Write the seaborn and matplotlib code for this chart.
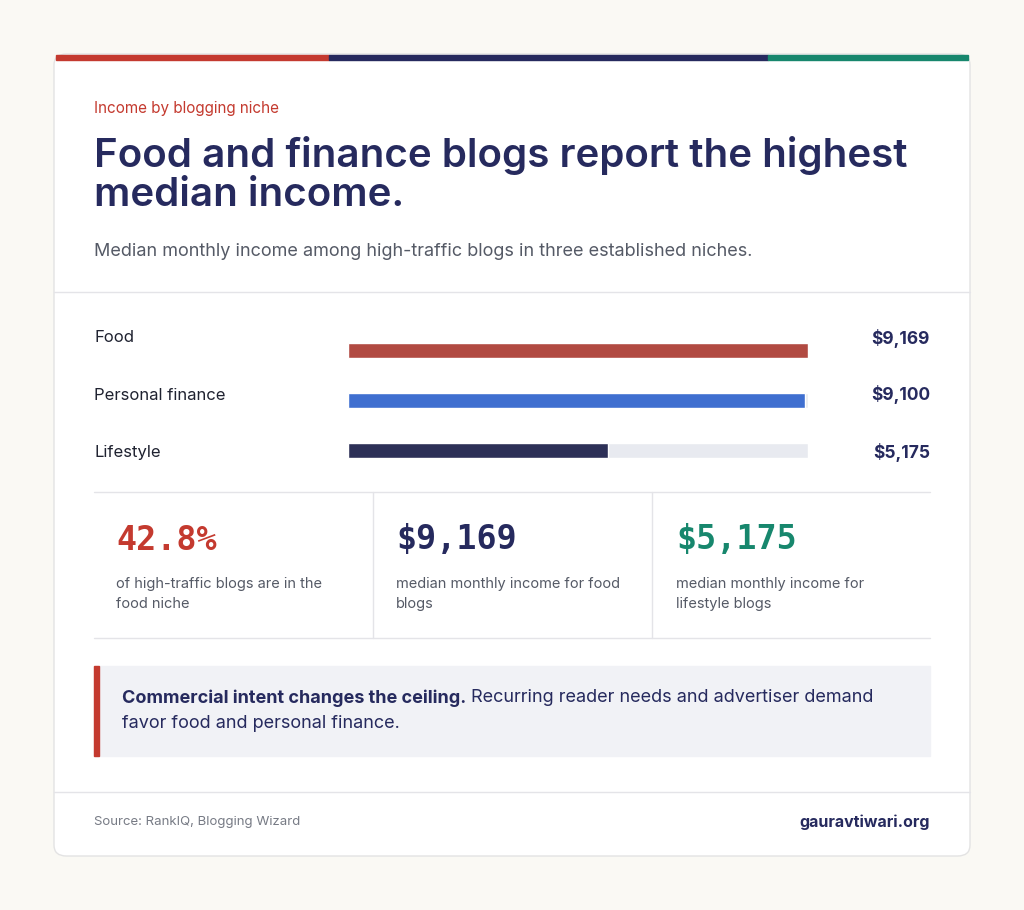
import matplotlib
matplotlib.use("Agg")
import matplotlib.pyplot as plt
import seaborn as sns
import pandas as pd
from matplotlib.patches import FancyBboxPatch, Rectangle

# --- datos ---
niches = ["Food", "Personal finance", "Lifestyle"]
income = [9169, 9100, 5175]
value_labels = ["$9,169", "$9,100", "$5,175"]
stat_values = ["42.8%", "$9,169", "$5,175"]
stat_texts = ["of high-traffic blogs are in the\nfood niche",
              "median monthly income for food\nblogs",
              "median monthly income for\nlifestyle blogs"]

RED, NAVY, BLUE, GREEN = "#c43a2f", "#262a5e", "#2767e8", "#17876d"
GREY_TXT, TRACK = "#555a66", "#e8eaf0"

sns.set_theme(style="white")
plt.rcParams["font.family"] = ["Inter", "DejaVu Sans"]

W, H = 1024, 910
fig = plt.figure(figsize=(W / 100, H / 100), dpi=100)
fig.patch.set_facecolor("#faf9f4")

def fx(x): return x / W
def fy(y): return 1 - y / H

# tarjeta
card = FancyBboxPatch((fx(54), fy(856)), fx(916), 802 / H,
                      boxstyle="round,pad=0,rounding_size=0.012",
                      transform=fig.transFigure, facecolor="white",
                      edgecolor="#e3e3e3", linewidth=1)
fig.patches.append(card)
for x0, x1, c in [(56, 329, RED), (329, 768, NAVY), (768, 968, GREEN)]:
    fig.patches.append(Rectangle((fx(x0), fy(60)), fx(x1 - x0), 5 / H,
                                 transform=fig.transFigure, color=c))

def hline(y, x0=94, x1=930, c="#e4e4e8"):
    fig.add_artist(plt.Line2D([fx(x0), fx(x1)], [fy(y), fy(y)], color=c, lw=1))

def vline(x, y0, y1, c="#e4e4e8"):
    fig.add_artist(plt.Line2D([fx(x), fx(x)], [fy(y0), fy(y1)], color=c, lw=1))

fig.text(fx(94), fy(108), "Income by blogging niche", color=RED, fontsize=11, va="center")
fig.text(fx(94), fy(175), "Food and finance blogs report the highest\nmedian income.",
         color=NAVY, fontsize=29, fontweight="semibold", va="center", linespacing=1.05)
fig.text(fx(94), fy(251), "Median monthly income among high-traffic blogs in three established niches.",
         color=GREY_TXT, fontsize=13, va="center")
hline(292, 54, 970)

# barras
df = pd.DataFrame({"niche": niches, "income": income})
ax = fig.add_axes([fx(348), fy(475), fx(460), 160 / H])
ax.set_zorder(10)
ax.patch.set_alpha(0)
ax.barh(range(3), [max(income)] * 3, height=0.3, color=TRACK)
sns.barplot(data=df, x="income", y="niche", hue="niche",
            palette=[RED, BLUE, NAVY], width=0.3, legend=False, ax=ax)
ax.set_xlim(0, max(income))
ax.set_ylim(2.5, -0.7)
ax.axis("off")
for i, (n, v) in enumerate(zip(niches, value_labels)):
    y = 338 + 57 * i
    fig.text(fx(94), fy(y), n, color="#1f2230", fontsize=12, va="center")
    fig.text(fx(930), fy(y), v, color=NAVY, fontsize=12.5, fontweight="bold",
             va="center", ha="right")

hline(492)
vline(373, 492, 638)
vline(652, 492, 638)
for i, (v, t, c) in enumerate(zip(stat_values, stat_texts, [RED, NAVY, GREEN])):
    x = 116 + 280 * i
    fig.text(fx(x), fy(540), v, color=c, fontsize=24, fontweight="bold",
             family="DejaVu Sans Mono", va="center")
    fig.text(fx(x), fy(594), t, color=GREY_TXT, fontsize=10.5, va="center", linespacing=1.5)
hline(638)

# nota
fig.patches.append(Rectangle((fx(94), fy(756)), fx(836), 90 / H,
                             transform=fig.transFigure, color="#f1f2f6"))
fig.patches.append(Rectangle((fx(94), fy(756)), fx(5), 90 / H,
                             transform=fig.transFigure, color=RED))
fig.text(fx(122), fy(698), "Commercial intent changes the ceiling.", color=NAVY,
         fontsize=13, fontweight="bold", va="center")
fig.text(fx(471), fy(698), "Recurring reader needs and advertiser demand",
         color=NAVY, fontsize=13, va="center")
fig.text(fx(122), fy(724), "favor food and personal finance.", color=NAVY, fontsize=13, va="center")

hline(792, 54, 970)
fig.text(fx(94), fy(822), "Source: RankIQ, Blogging Wizard", color="#777b85", fontsize=9.5, va="center")
fig.text(fx(930), fy(822), "gauravtiwari.org", color=NAVY, fontsize=11.5,
         fontweight="bold", va="center", ha="right")

fig.savefig("out.png", dpi=100, facecolor=fig.get_facecolor())
